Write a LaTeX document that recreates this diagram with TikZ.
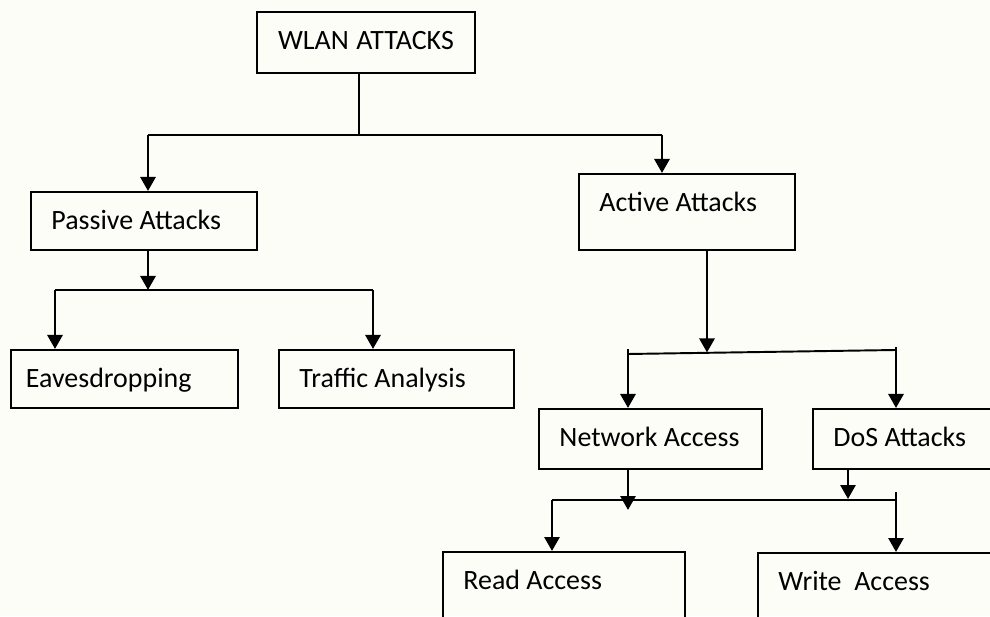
\documentclass[tikz,border=0pt]{standalone}
\usepackage{fontspec}
\setmainfont{Carlito}
\usetikzlibrary{arrows.meta}
\definecolor{paper}{RGB}{253,253,248}

\begin{document}
\begin{tikzpicture}[
        box/.style={draw,line width=1.1pt,anchor=north west,inner sep=0pt,align=left,
                    text height=0.76cm,font=\fontsize{15.9}{19}\selectfont,
                    execute at begin node={\spaceskip=0pt\xspaceskip=0pt\hspace*{#1}}},
        box/.default=0.41cm,
        bar/.style={line width=1.1pt},
        arrow/.style={line width=1.6pt,-{Triangle[width=0.30cm,length=0.28cm]}}
    ]

            \useasboundingbox (0,0) rectangle (19.8,12.32);
            \fill[paper] (0,0) rectangle (19.8,12.32);
            \clip (0,0) rectangle (19.8,12.32);

            % boxes: top-left corner, width and height
            \node[box=0pt,align=center,text width=4.36cm,text depth=0.46cm] (wlan) at (5.12,12.10) {WLAN ATTACKS};

            \node[box,text width=4.52cm,text depth=0.40cm] (passive) at (0.60,8.50) {Passive Attacks};
            \node[box,text width=4.32cm,text depth=0.76cm] (active) at (11.56,8.86) {Active Attacks};

            \node[box=0.30cm,text width=4.54cm,text depth=0.40cm] (eaves) at (0.20,5.34) {Eavesdropping};
            \node[box,text width=4.70cm,text depth=0.40cm] (traffic) at (5.56,5.34) {Traffic Analysis};

            \node[box,text width=4.46cm,text depth=0.44cm] (network) at (10.76,4.16) {Network Access};
            \node[box,text width=4.60cm,text depth=0.44cm] (dos) at (16.24,4.16) {DoS Attacks};

            \node[box,text width=4.84cm,text depth=1.30cm] (read) at (8.84,1.30) {Read Access};
            \node[box,text width=5.00cm,text depth=1.30cm] (write) at (15.14,1.28) {Write\ \ Access};

            % WLAN ATTACKS -> passive / active
            \coordinate (t) at (7.18,9.62);
            \coordinate (tl) at (2.96,9.62);
            \coordinate (tr) at (13.24,9.62);
            \draw[bar] (wlan.south -| t) -- (t);
            \draw[bar] (tl) -- (tr);
            \draw[arrow] (tl) -- (tl |- passive.north);
            \draw[arrow] (tr) -- (tr |- active.north);

            % passive attacks
            \coordinate (pl) at (1.10,6.52);
            \coordinate (pr) at (7.46,6.52);
            \draw[arrow] (passive.south -| tl) -- (tl |- pl);
            \draw[bar] (pl) -- (pr);
            \draw[arrow] (pl) -- (pl |- eaves.north);
            \draw[arrow] (pr) -- (pr |- traffic.north);

            % active attacks
            \coordinate (am) at (14.14,5.27);
            \coordinate (al) at (12.56,5.24);
            \coordinate (ar) at (17.92,5.32);
            \coordinate (als) at (12.56,5.33);
            \coordinate (ars) at (17.92,5.38);
            \draw[arrow] (active.south -| am) -- (am);
            \draw[bar] (al) -- (ar);
            \draw[arrow] (als) -- (als |- network.north);
            \draw[arrow] (ars) -- (ars |- dos.north);

            % network access / DoS attacks -> read / write
            \coordinate (nt) at (12.56,2.12);
            \coordinate (dt) at (16.96,2.34);
            \coordinate (bl) at (11.04,2.32);
            \coordinate (br) at (17.92,2.32);
            \coordinate (bs) at (17.92,2.48);
            \draw[arrow] (network.south -| nt) -- (nt);
            \draw[arrow] (dos.south -| dt) -- (dt);
            \draw[bar] (bl) -- (br);
            \draw[arrow] (bl) -- (bl |- read.north);
            \draw[arrow] (bs) -- (bs |- write.north);
        \end{tikzpicture}
\end{document}
